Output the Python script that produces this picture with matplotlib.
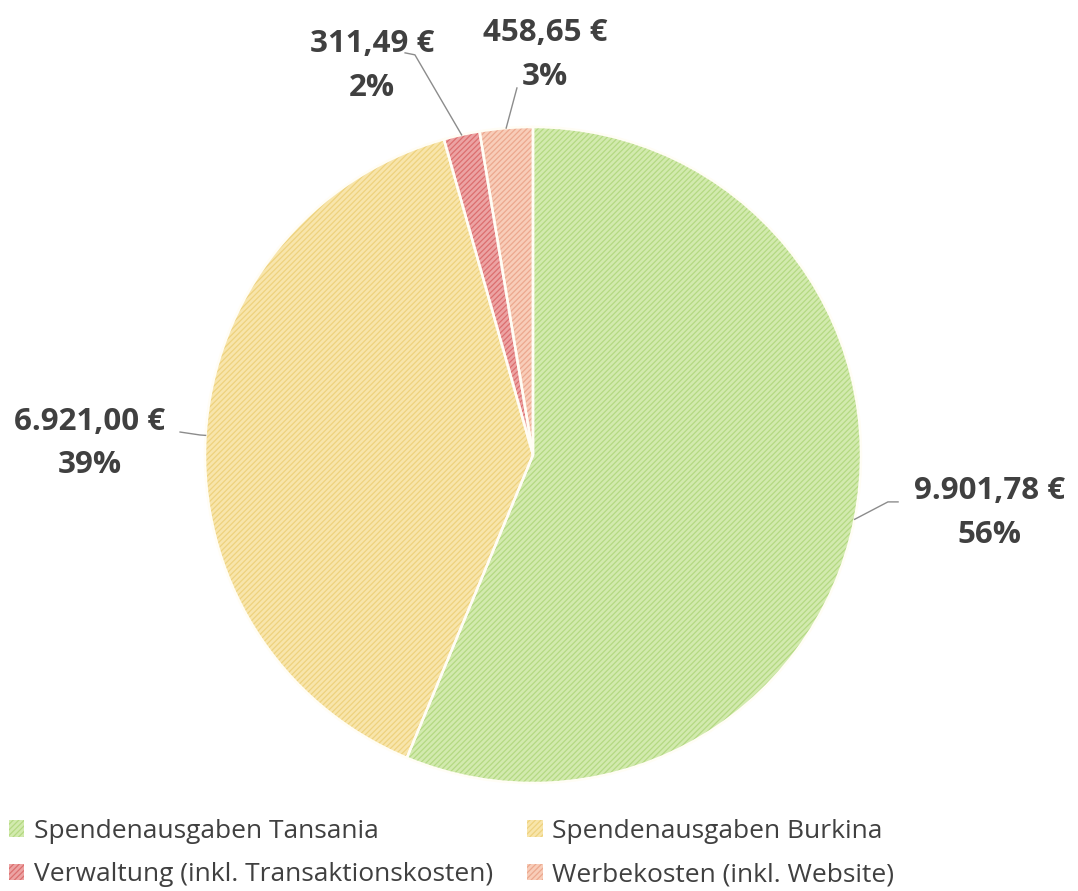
import matplotlib.pyplot as plt
from matplotlib.patches import Patch
import numpy as np

labels = ['Spendenausgaben Tansania', 'Spendenausgaben Burkina',
          'Verwaltung (inkl. Transaktionskosten)', 'Werbekosten (inkl. Website)']
values = [9901.78, 6921.00, 311.49, 458.65]
value_text = ['9.901,78 €', '6.921,00 €', '311,49 €', '458,65 €']
fills = ['#d2eaae', '#f8e5ab', '#eca3a3', '#f8cdb9']
hatches = ['#b4d982', '#eed27e', '#dc6e6e', '#eca88e']

# label centres, leader-line starts and bends in radius units
label_pos = [(1.393, -0.178), (-1.351, 0.035), (-0.491, 1.187), (0.037, 1.22)]
leader_start = [(1.113, -0.143), (-1.076, 0.07), (-0.39, 1.226), (-0.049, 1.119)]
leader_bend = [(1.082, -0.143), (-1.015, 0.061), (-0.36, 1.22), None]

W, H = 1078, 891
fig = plt.figure(figsize=(W / 100, H / 100), dpi=100)
plt.rcParams['hatch.linewidth'] = 0.9
font = 'Open Sans'

cx, cy, r = 533, 455, 328
ax = fig.add_axes([(cx - r) / W, (H - cy - r) / H, 2 * r / W, 2 * r / H])

wedges, _ = ax.pie(values, startangle=90, counterclock=False, radius=1,
                   wedgeprops=dict(linewidth=0))
for w, f, h in zip(wedges, fills, hatches):
    w.set_facecolor(f)
    w.set_edgecolor(h)
    w.set_hatch('//////')

# light borders on top
ax.pie(values, startangle=90, counterclock=False, radius=1,
       wedgeprops=dict(facecolor='none', edgecolor='#fffdf5', linewidth=1.8))
ax.set_xlim(-1, 1)
ax.set_ylim(-1, 1)
ax.set_aspect('equal')
ax.axis('off')

total = sum(values)
start = 90.0
for i, v in enumerate(values):
    span = v / total * 360
    mid = np.deg2rad(start - span / 2)
    start -= span
    ex, ey = np.cos(mid), np.sin(mid)
    tx, ty = label_pos[i]
    pct = '{:.0f}%'.format(v / total * 100)
    ax.text(tx, ty, value_text[i] + '\n' + pct, ha='center', va='center',
            fontsize=22.5, fontweight='bold', color='#404040', family=font,
            linespacing=1.6, clip_on=False)
    pts = [leader_start[i]]
    if leader_bend[i] is not None:
        pts.append(leader_bend[i])
    pts.append((ex, ey))
    xs, ys = zip(*pts)
    ax.plot(xs, ys, color='#8c8c8c', lw=1, clip_on=False)

handles = [Patch(facecolor=fills[i], edgecolor=hatches[i], hatch='//////',
                 linewidth=0, label=labels[i]) for i in range(4)]
order = [0, 2, 1, 3]
fig.legend([handles[i] for i in order], [labels[i] for i in order],
           loc='upper left', bbox_to_anchor=(0.008, 0.081), ncol=2,
           frameon=False, handlelength=0.6, handleheight=0.6,
           handletextpad=0.35, columnspacing=1.3, labelspacing=0.7,
           borderpad=0, borderaxespad=0,
           prop={'family': font, 'size': 19}, labelcolor='#404040')

fig.savefig('out.png', dpi=100)
